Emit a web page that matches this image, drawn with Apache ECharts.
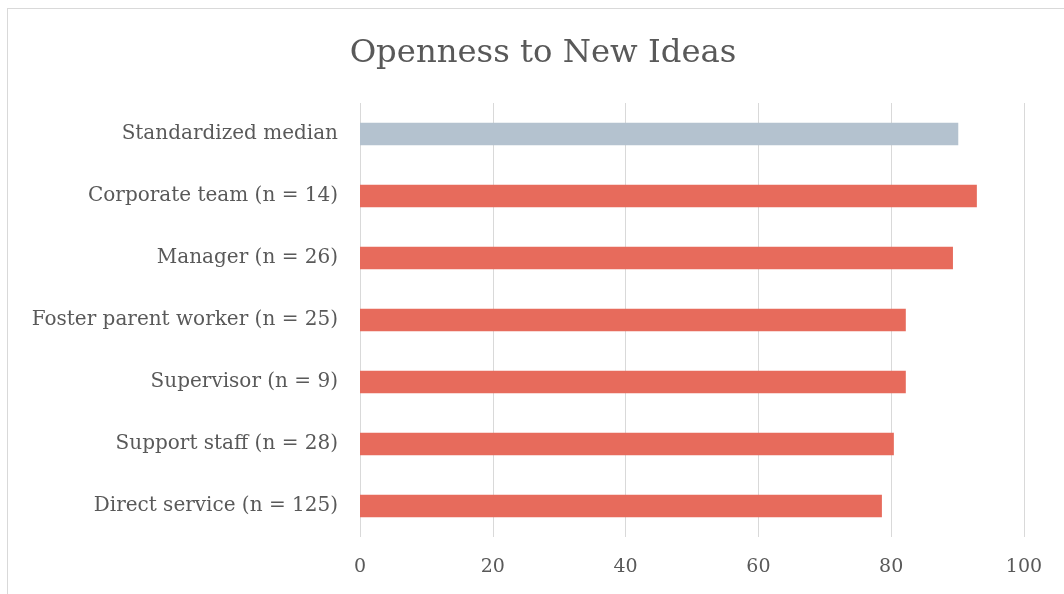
<!DOCTYPE html>
<html>
<head>
<meta charset="utf-8">
<script src="https://cdn.jsdelivr.net/npm/echarts@6/dist/echarts.min.js"></script>
<style>
html,body{margin:0;padding:0;background:#fff;}
#frame{position:absolute;left:7px;top:8px;width:1070px;height:600px;border:1px solid #d9d9d9;box-sizing:border-box;}
#chart{position:absolute;left:0;top:0;width:1064px;height:594px;}
</style>
</head>
<body>
<div id="frame"></div>
<div id="chart"></div>
<script>
const title = "Openness to New Ideas";
const categories = [
  "Standardized median",
  "Corporate team (n = 14)",
  "Manager (n = 26)",
  "Foster parent worker (n = 25)",
  "Supervisor (n = 9)",
  "Support staff (n = 28)",
  "Direct service (n = 125)"
];
const values = [90.1, 92.9, 89.3, 82.2, 82.2, 80.4, 78.6];
const xTicks = [0, 20, 40, 60, 80, 100];

const FONT = "DejaVu Serif";
const chart = echarts.init(document.getElementById('chart'), null, {renderer: 'canvas'});
chart.setOption({
  backgroundColor: 'transparent',
  animation: false,
  title: {
    text: title,
    left: 538,
    textAlign: 'center',
    top: 33,
    textStyle: {fontFamily: FONT, fontSize: 32.3, fontWeight: 'normal', color: '#595959'}
  },
  grid: {left: 360, right: 40, top: 103, bottom: 57, containLabel: false},
  xAxis: {
    type: 'value',
    min: xTicks[0],
    max: xTicks[xTicks.length - 1],
    interval: 20,
    axisLine: {show: false},
    axisTick: {show: false},
    axisLabel: {fontFamily: FONT, fontSize: 19, color: '#595959', margin: 21},
    splitLine: {show: true, lineStyle: {color: '#d9d9d9', width: 1}}
  },
  yAxis: {
    type: 'category',
    inverse: true,
    data: categories,
    axisLine: {show: false},
    axisTick: {show: false},
    axisLabel: {fontFamily: FONT, fontSize: 20, color: '#595959', margin: 22}
  },
  series: [{
    type: 'bar',
    data: values,
    barWidth: '36%',
    itemStyle: {
      color: function (p) { return p.dataIndex === 0 ? '#b4c2cf' : '#e76b5c'; }
    }
  }]
});
</script>
</body>
</html>
